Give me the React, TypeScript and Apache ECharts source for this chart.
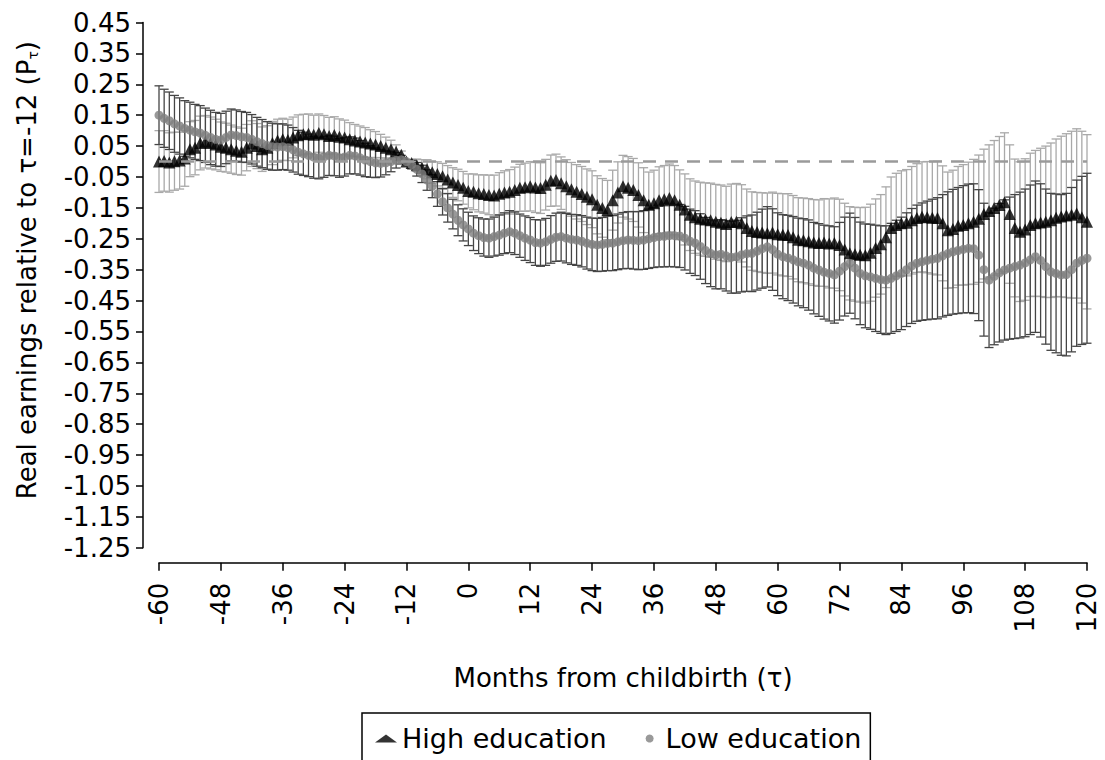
import * as echarts from 'echarts';
import React, { useEffect, useRef } from 'react';

// months from childbirth, -60 .. 120
const months = Array.from({ length: 181 }, (_, i) => i - 60);

// high education: point estimates and CI half-widths (one value per month)
const highMean = [
  0.0, 0.002, -0.003, 0.001, 0.003, 0.01, 0.04, 0.045, 0.06, 0.064, 0.06, 0.055,
  0.048, 0.045, 0.04, 0.035, 0.032, 0.045, 0.058, 0.05, 0.04, 0.045, 0.06, 0.068,
  0.072, 0.07, 0.078, 0.085, 0.088, 0.09, 0.087, 0.092, 0.088, 0.083, 0.086, 0.08,
  0.078, 0.072, 0.068, 0.065, 0.062, 0.058, 0.055, 0.05, 0.045, 0.04, 0.032, 0.022,
  0.0, -0.005, -0.012, -0.02, -0.025, -0.035, -0.04, -0.048, -0.058, -0.068, -0.076, -0.085,
  -0.095, -0.098, -0.103, -0.105, -0.108, -0.11, -0.104, -0.1, -0.098, -0.092, -0.085, -0.083,
  -0.08, -0.084, -0.086, -0.075, -0.062, -0.06, -0.07, -0.08, -0.09, -0.098, -0.105, -0.114,
  -0.122, -0.14, -0.15, -0.157, -0.125, -0.1, -0.08, -0.085, -0.092, -0.108, -0.125, -0.14,
  -0.135, -0.125, -0.122, -0.118, -0.125, -0.14, -0.155, -0.172, -0.18, -0.185, -0.188, -0.19,
  -0.195, -0.198, -0.202, -0.196, -0.195, -0.2, -0.215, -0.225, -0.228, -0.23, -0.232, -0.23,
  -0.235, -0.237, -0.238, -0.245, -0.253, -0.255, -0.258, -0.262, -0.264, -0.262, -0.265, -0.264,
  -0.27, -0.285, -0.297, -0.3, -0.302, -0.303, -0.295, -0.28, -0.268, -0.245, -0.215, -0.205,
  -0.2, -0.198, -0.19, -0.183, -0.179, -0.18, -0.182, -0.183, -0.2, -0.222, -0.218, -0.208,
  -0.205, -0.2, -0.195, -0.185, -0.17, -0.16, -0.15, -0.141, -0.132, -0.17, -0.215, -0.227,
  -0.22, -0.205, -0.2, -0.197, -0.195, -0.19, -0.182, -0.178, -0.175, -0.172, -0.168, -0.18,
  -0.195,
];
const highHalf = [
  0.1, 0.098, 0.096, 0.094, 0.092, 0.09, 0.089, 0.088, 0.087, 0.085, 0.084, 0.082,
  0.08, 0.079, 0.078, 0.077, 0.076, 0.075, 0.074, 0.073, 0.072, 0.071, 0.07, 0.069,
  0.068, 0.067, 0.066, 0.066, 0.065, 0.064, 0.063, 0.062, 0.061, 0.06, 0.059, 0.058,
  0.056, 0.054, 0.052, 0.05, 0.048, 0.045, 0.042, 0.038, 0.034, 0.029, 0.022, 0.012,
  0.0, 0.012, 0.02, 0.026, 0.031, 0.035, 0.039, 0.042, 0.045, 0.048, 0.051, 0.053,
  0.055, 0.058, 0.06, 0.062, 0.064, 0.066, 0.068, 0.07, 0.072, 0.074, 0.076, 0.078,
  0.08, 0.081, 0.082, 0.082, 0.083, 0.084, 0.085, 0.086, 0.087, 0.088, 0.089, 0.09,
  0.092, 0.094, 0.095, 0.096, 0.097, 0.099, 0.1, 0.101, 0.102, 0.104, 0.105, 0.106,
  0.107, 0.108, 0.109, 0.11, 0.112, 0.113, 0.115, 0.116, 0.117, 0.118, 0.119, 0.12,
  0.121, 0.122, 0.122, 0.123, 0.124, 0.125, 0.126, 0.127, 0.128, 0.129, 0.13, 0.131,
  0.132, 0.133, 0.134, 0.135, 0.136, 0.137, 0.138, 0.139, 0.14, 0.142, 0.144, 0.146,
  0.148, 0.15, 0.151, 0.152, 0.153, 0.155, 0.157, 0.159, 0.161, 0.163, 0.165, 0.167,
  0.17, 0.172, 0.174, 0.176, 0.178, 0.18, 0.182, 0.184, 0.186, 0.188, 0.19, 0.192,
  0.195, 0.198, 0.202, 0.206, 0.21, 0.214, 0.218, 0.222, 0.225, 0.224, 0.223, 0.226,
  0.229, 0.232, 0.236, 0.24, 0.245, 0.25, 0.255, 0.26, 0.265, 0.27, 0.274, 0.278,
  0.282,
];

// low education
const lowMean = [
  0.15, 0.14, 0.132, 0.122, 0.115, 0.107, 0.102, 0.096, 0.092, 0.085, 0.078, 0.072,
  0.07, 0.078, 0.086, 0.084, 0.08, 0.078, 0.072, 0.064, 0.058, 0.052, 0.048, 0.047,
  0.048, 0.045, 0.038, 0.03, 0.025, 0.02, 0.014, 0.011, 0.015, 0.02, 0.018, 0.012,
  0.015, 0.02, 0.018, 0.012, 0.005, 0.0, -0.004, -0.006, -0.004, 0.0, 0.004, 0.006,
  0.0, -0.01, -0.025, -0.04, -0.06, -0.08, -0.105, -0.13, -0.15, -0.17, -0.19, -0.205,
  -0.218, -0.232, -0.24, -0.246, -0.248, -0.243, -0.238, -0.232, -0.227, -0.232, -0.24, -0.248,
  -0.254, -0.262, -0.264, -0.26, -0.252, -0.245, -0.243, -0.248, -0.252, -0.254, -0.258, -0.264,
  -0.268, -0.27, -0.268, -0.265, -0.264, -0.26, -0.256, -0.254, -0.255, -0.256, -0.254, -0.25,
  -0.246, -0.243, -0.242, -0.24, -0.24, -0.241, -0.248, -0.258, -0.264, -0.275, -0.288, -0.297,
  -0.302, -0.3, -0.305, -0.31, -0.308, -0.302, -0.298, -0.297, -0.29, -0.282, -0.276, -0.285,
  -0.3, -0.308, -0.312, -0.318, -0.325, -0.329, -0.335, -0.345, -0.351, -0.358, -0.362, -0.367,
  -0.355, -0.34, -0.329, -0.345, -0.362, -0.37, -0.373, -0.378, -0.382, -0.384, -0.378, -0.37,
  -0.362, -0.35, -0.338, -0.329, -0.324, -0.32, -0.316, -0.313, -0.305, -0.298, -0.292, -0.288,
  -0.284, -0.281, -0.282, -0.303, -0.35, -0.384, -0.372, -0.36, -0.351, -0.345, -0.34, -0.335,
  -0.328, -0.318, -0.308, -0.32, -0.34, -0.357, -0.362, -0.367, -0.366, -0.35, -0.329, -0.32,
  -0.313,
];
const lowHalf = [
  0.095, 0.094, 0.093, 0.092, 0.091, 0.09, 0.09, 0.089, 0.089, 0.088, 0.088, 0.087,
  0.086, 0.085, 0.084, 0.083, 0.082, 0.081, 0.08, 0.079, 0.078, 0.077, 0.076, 0.075,
  0.074, 0.073, 0.072, 0.071, 0.07, 0.069, 0.068, 0.067, 0.066, 0.065, 0.064, 0.063,
  0.062, 0.06, 0.058, 0.056, 0.054, 0.051, 0.048, 0.044, 0.039, 0.033, 0.025, 0.014,
  0.0, 0.014, 0.022, 0.028, 0.033, 0.037, 0.04, 0.043, 0.046, 0.048, 0.05, 0.052,
  0.054, 0.056, 0.058, 0.06, 0.062, 0.063, 0.065, 0.066, 0.068, 0.069, 0.07, 0.072,
  0.073, 0.074, 0.075, 0.076, 0.077, 0.078, 0.079, 0.08, 0.081, 0.082, 0.083, 0.084,
  0.085, 0.086, 0.087, 0.088, 0.089, 0.09, 0.091, 0.092, 0.093, 0.094, 0.095, 0.096,
  0.097, 0.098, 0.099, 0.1, 0.101, 0.102, 0.103, 0.104, 0.105, 0.106, 0.107, 0.108,
  0.11, 0.112, 0.114, 0.116, 0.118, 0.12, 0.122, 0.124, 0.126, 0.128, 0.13, 0.132,
  0.134, 0.136, 0.138, 0.14, 0.142, 0.144, 0.146, 0.148, 0.15, 0.152, 0.154, 0.156,
  0.158, 0.16, 0.162, 0.164, 0.166, 0.168, 0.17, 0.172, 0.174, 0.176, 0.178, 0.18,
  0.182, 0.184, 0.186, 0.188, 0.19, 0.192, 0.194, 0.196, 0.198, 0.2, 0.202, 0.204,
  0.206, 0.208, 0.21, 0.212, 0.215, 0.218, 0.221, 0.224, 0.227, 0.23, 0.233, 0.236,
  0.239, 0.242, 0.245, 0.248, 0.251, 0.254, 0.257, 0.26, 0.263, 0.266, 0.269, 0.272,
  0.275,
];

const seriesNames = ['High education', 'Low education'];

const FONT = '"DejaVu Sans", sans-serif';
const HIGH_CI = '#a9a9a9';
const LOW_CI = '#454545';

// error bar with caps, drawn through the cartesian scales
const makeCapRenderer = (color: string) => (_params: any, api: any) => {
  const x = api.value(0);
  const lo = api.coord([x, api.value(1)]);
  const hi = api.coord([x, api.value(2)]);
  const w = 4.5;
  const style = { stroke: color, lineWidth: 1.3 };
  return {
    type: 'group',
    children: [
      { type: 'line', shape: { x1: lo[0], y1: lo[1], x2: hi[0], y2: hi[1] }, style },
      { type: 'line', shape: { x1: hi[0] - w, y1: hi[1], x2: hi[0] + w, y2: hi[1] }, style },
      { type: 'line', shape: { x1: lo[0] - w, y1: lo[1], x2: lo[0] + w, y2: lo[1] }, style },
    ],
  };
};

const ciData = (mean: number[], half: number[]) =>
  months.map((m, i) => [m, +(mean[i] - half[i]).toFixed(3), +(mean[i] + half[i]).toFixed(3)]);

const App = () => {
  const chartRef = useRef<HTMLDivElement>(null);

  useEffect(() => {
    if (!chartRef.current) return;
    const chart = echarts.init(chartRef.current, null, { renderer: 'svg' });

    chart.setOption({
      animation: false,
      backgroundColor: '#fff',
      grid: { left: 159, right: 18, top: 22.5, bottom: 212.25 },
      legend: {
        left: 362,
        top: 713,
        orient: 'horizontal',
        data: [
          { name: seriesNames[0], icon: 'triangle' },
          { name: seriesNames[1], icon: 'circle' },
        ],
        itemWidth: 22,
        itemHeight: 8,
        itemGap: 39,
        padding: [12, 9, 40, 13],
        borderColor: '#000',
        borderWidth: 1.5,
        textStyle: { fontFamily: FONT, fontSize: 27, color: '#000' },
      },
      xAxis: {
        type: 'value',
        min: -60,
        max: 120,
        interval: 12,
        offset: 15,
        name: 'Months from childbirth (τ)',
        nameLocation: 'middle',
        nameGap: 102,
        nameTextStyle: { fontFamily: FONT, fontSize: 26, color: '#000' },
        axisLine: { show: true, onZero: false, lineStyle: { color: '#000', width: 1.5 } },
        axisTick: { show: true, length: 8, lineStyle: { color: '#000', width: 1.5 } },
        axisLabel: {
          rotate: 90,
          margin: 20,
          fontFamily: FONT,
          fontSize: 26,
          color: '#000',
          showMinLabel: true,
          showMaxLabel: true,
        },
        splitLine: { show: false },
      },
      yAxis: {
        type: 'value',
        min: -1.25,
        max: 0.45,
        interval: 0.1,
        offset: 16,
        name: 'Real earnings relative to τ=-12 (P{sub|τ})',
        nameLocation: 'middle',
        nameGap: 103,
        nameTextStyle: {
          fontFamily: FONT,
          fontSize: 26,
          color: '#000',
          padding: [0, 0, 0, 30],
          rich: {
            sub: { fontFamily: FONT, fontSize: 14, color: '#000', verticalAlign: 'bottom' },
          },
        },
        axisLine: { show: true, onZero: false, lineStyle: { color: '#000', width: 1.5 } },
        axisTick: { show: true, length: 7, lineStyle: { color: '#000', width: 1.5 } },
        axisLabel: {
          margin: 12,
          fontFamily: FONT,
          fontSize: 26,
          color: '#000',
          formatter: (v: number) => v.toFixed(2),
        },
        splitLine: { show: false },
      },
      series: [
        {
          type: 'scatter',
          name: 'zero',
          data: [],
          silent: true,
          markLine: {
            silent: true,
            symbol: 'none',
            label: { show: false },
            lineStyle: { color: '#9a9a9a', type: [13, 9], width: 2.5 },
            data: [{ yAxis: 0 }],
          },
        },
        {
          type: 'custom',
          name: 'high ci',
          data: ciData(highMean, highHalf),
          encode: { x: 0, y: [1, 2] },
          renderItem: makeCapRenderer(HIGH_CI),
          silent: true,
        },
        {
          type: 'custom',
          name: 'low ci',
          data: ciData(lowMean, lowHalf),
          encode: { x: 0, y: [1, 2] },
          renderItem: makeCapRenderer(LOW_CI),
          silent: true,
        },
        {
          type: 'scatter',
          name: seriesNames[0],
          symbol: 'triangle',
          symbolSize: 12,
          itemStyle: { color: '#000' },
          data: months.map((m, i) => [m, highMean[i]]),
        },
        {
          type: 'scatter',
          name: seriesNames[1],
          symbol: 'circle',
          symbolSize: 9,
          itemStyle: { color: '#808080' },
          data: months.map((m, i) => [m, lowMean[i]]),
        },
      ],
    });

    return () => {
      chart.dispose();
    };
  }, []);

  return (
    <div
      ref={chartRef}
      style={{ position: 'absolute', left: 0, top: 0, width: 1105, height: 760, background: '#fff' }}
    />
  );
};

export default App;
